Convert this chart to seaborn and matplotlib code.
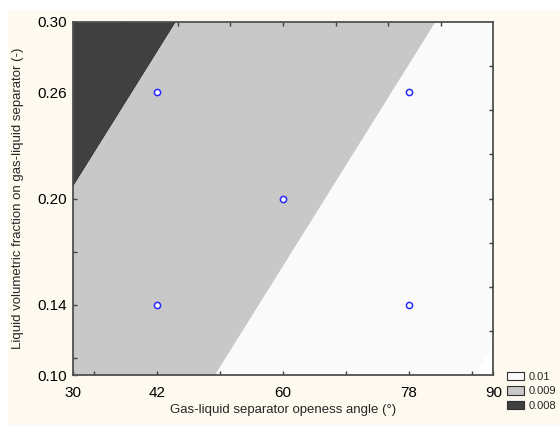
import numpy as np
import pandas as pd
import matplotlib
matplotlib.use("Agg")
import matplotlib.pyplot as plt
from matplotlib.patches import Rectangle, Patch
import seaborn as sns

# ---- data ----
angle = [42, 42, 60, 78, 78]                 # gas-liquid separator openess angle (deg)
fraction = [0.26, 0.14, 0.20, 0.26, 0.14]    # liquid volumetric fraction (-)
response = [0.008095, 0.008606, 0.008837, 0.009068, 0.009578]  # fitted response at design points
levels_bounds = [0.008, 0.009, 0.010]
legend_labels = ["0.01", "0.009", "0.008"]
x_ticklabels = [30, 42, 60, 78, 90]
y_ticklabels = [0.10, 0.14, 0.20, 0.26, 0.30]
x_minor = [33, 51, 69, 87]
y_minor = [0.11, 0.17, 0.23, 0.29]
x_top = [37.5, 45, 52.5, 60, 67.5, 75, 82.5]
y_right = [0.125, 0.15, 0.175, 0.20, 0.225, 0.25, 0.275]

df = pd.DataFrame({"angle": angle, "fraction": fraction, "response": response})

sns.set_style("ticks")
plt.rcParams["font.family"] = ["Liberation Sans", "DejaVu Sans"]
plt.rcParams["axes.axisbelow"] = False

fig = plt.figure(figsize=(5.6, 4.25), dpi=100)
fig.patch.set_facecolor("white")
fig.patches.append(Rectangle((8 / 560, 0), 1, 1 - 10 / 425, transform=fig.transFigure,
                             facecolor="#FFFAF0", edgecolor="none", zorder=-10))

ax = fig.add_axes([72.7 / 560, 1 - 375.3 / 425, (493.3 - 72.7) / 560, (375.3 - 21.7) / 425])
ax.set_axisbelow(False)

# linear response surface fitted to the design points
A = np.column_stack([np.ones(len(df)), df["angle"], df["fraction"]])
coef, *_ = np.linalg.lstsq(A, df["response"].to_numpy(), rcond=None)
gx = np.linspace(30, 90, 241)
gy = np.linspace(0.10, 0.30, 241)
GX, GY = np.meshgrid(gx, gy)
Z = coef[0] + coef[1] * GX + coef[2] * GY

lv = [min(Z.min(), levels_bounds[0]) - 1, *levels_bounds, Z.max() + 1]
cols = ["#404040", "#C8C8C8", "#FAFAFA", "#FFFFFF"]
ax.contourf(GX, GY, Z, levels=lv, colors=cols, antialiased=True, zorder=0.2)

sns.scatterplot(data=df, x="angle", y="fraction", ax=ax, marker="o", s=20,
                facecolor="white", edgecolor="#2828FF", linewidth=1.1, zorder=5)

ax.set_xlim(30, 90)
ax.set_ylim(0.10, 0.30)
ax.set_xticks(x_ticklabels)
ax.set_xticklabels([str(v) for v in x_ticklabels])
ax.set_yticks(y_ticklabels)
ax.set_yticklabels([f"{v:.2f}" for v in y_ticklabels])
ax.set_xticks(x_minor, minor=True)
ax.set_yticks(y_minor, minor=True)
ax.tick_params(axis="both", which="both", direction="in", length=3, width=1,
               color="#404040", labelsize=11, labelcolor="black",
               bottom=True, left=True, top=False, right=False)
ax.tick_params(axis="x", which="major", pad=8)
ax.tick_params(axis="y", which="major", pad=4)
for sp in ax.spines.values():
    sp.set_color("#505050")
    sp.set_linewidth(1.3)
    sp.set_zorder(6)

top = ax.secondary_xaxis("top")
top.set_xticks(x_top)
top.set_xticklabels([])
top.tick_params(direction="in", length=3, width=1, color="#404040", top=True)
top.spines["top"].set_visible(False)
top.set_zorder(10)
right = ax.secondary_yaxis("right")
right.set_yticks(y_right)
right.set_yticklabels([])
right.tick_params(direction="in", length=3, width=1, color="#404040", right=True)
right.spines["right"].set_visible(False)
right.set_zorder(10)

ax.set_xlabel("")
ax.set_ylabel("")
fig.text(283 / 560, 1 - 410 / 425, "Gas-liquid separator openess angle (°)",
         ha="center", va="center", fontsize=9.5)
fig.text(18 / 560, 1 - 198.5 / 425, "Liquid volumetric fraction on gas-liquid separator (-)",
         ha="center", va="center", rotation=90, fontsize=9.5)

handles = [Patch(facecolor=c, edgecolor="#303030", linewidth=0.8) for c in ["#FAFAFA", "#C8C8C8", "#404040"]]
fig.legend(handles, legend_labels, loc="upper left", bbox_to_anchor=(507 / 560, 1 - 371.5 / 425),
           frameon=False, fontsize=8, handlelength=1.55, handleheight=0.85,
           labelspacing=0.38, handletextpad=0.4, borderpad=0, borderaxespad=0)

fig.savefig("out.png", dpi=100, facecolor=fig.get_facecolor())
